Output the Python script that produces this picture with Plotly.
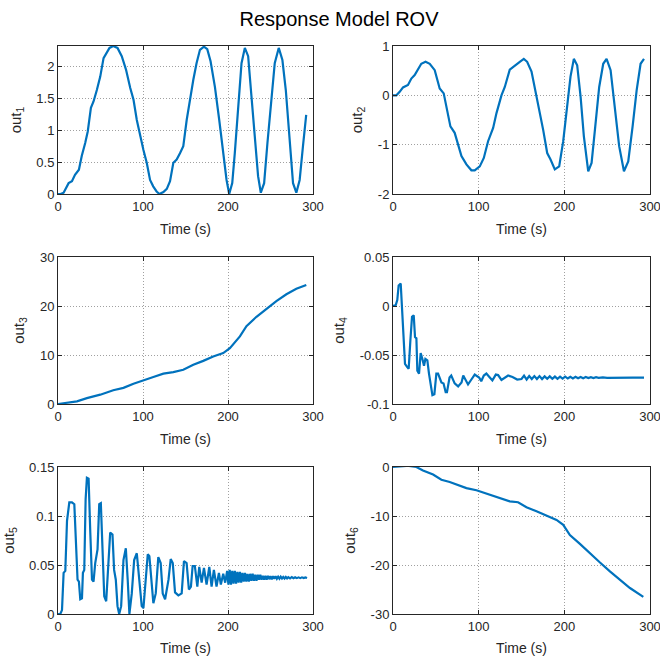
import plotly.graph_objects as go

# ---------------- data ----------------
t1 = [0, 3, 6.6, 10.5, 12.5, 16.4, 20, 24.6, 28, 32, 35, 38.7, 41.8, 45.7, 49.7, 53.6, 56.7, 60.6, 65,
      70, 75, 80, 85, 88.8, 92.7, 96.6, 100.5, 104.4, 108.3, 112, 116, 119.3, 124, 128, 131.8, 135.7,
      139.6, 143.5, 147.4, 151.4, 155.3, 159.2, 163, 167, 171.7, 175.6, 179.5, 184.6, 189.7, 194.4,
      198.3, 201.4, 205, 208, 212, 215.9, 219.8, 223.7, 227.6, 231.5, 235.4, 238.6, 242.5, 246.4, 251,
      255, 259.7, 264, 268, 272.6, 276.5, 280.4, 284.3, 288.2, 292]
y1 = [0, 0, 0.02, 0.12, 0.17, 0.2, 0.3, 0.38, 0.6, 0.8, 0.98, 1.35, 1.45, 1.63, 1.84, 2.13, 2.21, 2.29, 2.32,
      2.29, 2.16, 1.95, 1.66, 1.48, 1.16, 0.9, 0.69, 0.49, 0.22, 0.12, 0.04, 0, 0.03, 0.08, 0.2, 0.49,
      0.54, 0.64, 0.75, 1.16, 1.5, 1.79, 2.05, 2.26, 2.31, 2.27, 2.08, 1.68, 1.16, 0.64,
      0.22, 0, 0.17, 0.64, 1.43, 2.05, 2.29, 2.16, 1.53, 0.85, 0.28, 0.02, 0.17, 0.8, 1.53,
      2.05, 2.29, 2.1, 1.63, 0.8, 0.17, 0.02, 0.22, 0.75, 1.24]

t2 = [0, 3.9, 7.8, 11.7, 17.5, 21.4, 25.3, 29.2, 33, 38, 42.9, 48.7, 54.5, 59.2, 62.3, 67, 72, 76, 79.9,
      85.7, 91.5, 95.4, 101.3, 106, 111, 116.9, 120.8, 126.6, 130.5, 136.3, 142.2, 148, 152.7, 156.6,
      161.7, 165.6, 170.6, 175.3, 180, 183.9, 188.9, 194, 198.7, 203.4, 207.2, 211.1, 215, 219, 222.8,
      227.9, 231.8, 235.7, 240.7, 245.4, 249.3, 254, 259, 264, 269.6, 274.6, 279.7, 284.4, 289, 293]
y2 = [0, 0, 0.07, 0.16, 0.21, 0.34, 0.41, 0.54, 0.64, 0.68, 0.64, 0.51, 0.14, 0.04, -0.23, -0.63, -0.76,
      -0.99, -1.23, -1.4, -1.52, -1.52, -1.44, -1.27, -0.93, -0.66, -0.36, 0.0, 0.17, 0.52, 0.61, 0.68,
      0.74, 0.68, 0.48, 0.14, -0.23, -0.7, -1.17, -1.3, -1.5, -1.44, -0.93, -0.16, 0.38, 0.74, 0.61,
      -0.03, -0.83, -1.54, -1.37, -0.7, 0.17, 0.64, 0.74, 0.51, -0.23, -1.03, -1.54, -1.34, -0.63, 0.1,
      0.64, 0.74]

t3 = [0, 10.6, 22.3, 34, 49.7, 65, 77, 88.8, 100.5, 112.2, 124, 135.7, 147.4, 159.2, 170.9, 182.6, 194.4,
      202.2, 214, 221.7, 233.5, 245.2, 256.9, 268.7, 280.4, 292.1]
y3 = [0, 0.2, 0.55, 1.2, 1.9, 2.8, 3.3, 4.15, 4.75, 5.5, 6.2, 6.5, 7.0, 8.0, 8.8, 9.7, 10.4,
      11.4, 13.8, 15.9, 17.8, 19.4, 21.0, 22.4, 23.5, 24.3]

t4 = [0, 3.1, 5, 6.6, 9, 10.5, 12.5, 14, 16.4, 18.3, 20.3, 22.2, 24.2, 25.7, 27.3, 28.4, 30.4, 32.3, 34.3,
      36.2, 37.8, 40.1, 42, 44, 46, 48.3, 50.6, 52.6, 56.5, 59, 61.5, 63, 66, 68, 72, 76, 80, 82, 85.7,
      87.6, 91.5, 95.4, 100.5, 103, 106, 109, 113, 116, 120, 122.7, 126.6, 130.5, 134.4, 139.5, 145,
      150, 153, 156, 159, 162, 165, 168, 171, 174, 177, 180, 183, 186, 189, 192, 195, 198, 201, 204,
      207, 210, 213, 216, 219, 222, 225, 228, 231, 234, 237, 240, 245, 250, 260, 270, 280, 293]
y4 = [0, 0.0007, 0.006, 0.021, 0.023, -0.001, -0.0385, -0.059, -0.062, -0.064, -0.035, -0.011, -0.0095,
      -0.0317, -0.033, -0.066, -0.069, -0.048, -0.054, -0.061, -0.054, -0.0555, -0.069, -0.083, -0.091,
      -0.09, -0.069, -0.069, -0.078, -0.079, -0.088, -0.088, -0.073, -0.071, -0.079, -0.082, -0.078,
      -0.071, -0.077, -0.080, -0.075, -0.070, -0.073, -0.0767, -0.071, -0.069, -0.073, -0.076, -0.070,
      -0.0705, -0.0755, -0.0735, -0.071, -0.0725, -0.075, -0.0745, -0.071, -0.075, -0.0715, -0.0745,
      -0.0715, -0.0745, -0.0715, -0.0745, -0.0718, -0.0743, -0.0718, -0.0742, -0.072, -0.0742, -0.072,
      -0.074, -0.0721, -0.074, -0.0722, -0.0739, -0.0723, -0.0738, -0.0724, -0.0737, -0.0725, -0.0736,
      -0.0726, -0.0735, -0.0727, -0.0734, -0.0728, -0.0733, -0.073, -0.0731, -0.073, -0.073]

t5 = [0, 2.7, 4.7, 6.6, 8.6, 10.6, 13.3, 16.4, 19.2, 21.5, 23, 24.6, 26.2, 28.2, 29.3, 30.9, 32.5, 34, 36,
      38, 40, 41.8, 43.8, 46.5, 48.5, 50.4, 52.4, 54.4, 56.7, 58.3, 61.4, 64.1, 66, 68, 70, 72, 74.3, 77,
      79.8, 82, 84, 86.8, 89.6, 92.7, 95.8, 98.5, 100.5, 103.2, 105.6, 107.5, 110.3, 112.2, 115, 118,
      120.8, 123.2, 126, 130, 132.6, 135, 137.7, 141.6, 145.5, 148.2, 151.3, 154, 156.4, 158.4, 161,
      163.9, 166.2, 169, 171.7, 174.8, 178, 180.7, 183.4, 186.5, 189.3, 191.6, 194.4, 196.7, 199,
      200.5, 202, 203.5, 205, 206.5, 208, 209.5, 211, 212.5, 214, 215.5, 217, 218.5, 220, 221.5, 223,
      224.5, 226, 227.5, 229, 230.5, 232, 233.5, 235, 236.5, 238, 239.5, 241, 242.5, 244, 245.5, 247,
      248.5, 250, 251.5, 253, 254.5, 256, 257.5, 259, 260.5, 262, 263.5, 265, 266.5, 268, 269.5, 271,
      273, 275, 277, 279, 281, 283, 285, 287, 289, 291, 293]
y5 = [0, 0, 0.004, 0.042, 0.044, 0.095, 0.114, 0.114, 0.112, 0.066, 0.035, 0.033, 0.015, 0.016, 0.042,
      0.045, 0.117, 0.139, 0.138, 0.083, 0.035, 0.033, 0.052, 0.066, 0.112, 0.113, 0.066, 0.018, 0.013,
      0.042, 0.083, 0.081, 0.045, 0.035, 0.008, 0, 0.008, 0.055, 0.067, 0.035, 0, 0.021, 0.055, 0.062,
      0.033, 0.008, 0.006, 0.037, 0.061, 0.059, 0.025, 0.011, 0.021, 0.058, 0.052, 0.021, 0.015, 0.035,
      0.056, 0.052, 0.022, 0.019, 0.021, 0.054, 0.052, 0.025, 0.028, 0.049, 0.049, 0.028, 0.048, 0.032,
      0.047, 0.030, 0.048, 0.028, 0.045, 0.028, 0.042, 0.030, 0.041, 0.032, 0.044,
      0.030, 0.045, 0.030, 0.044, 0.031, 0.044, 0.031, 0.043, 0.032, 0.043, 0.032, 0.042, 0.033, 0.042,
      0.033, 0.041, 0.033, 0.041, 0.034, 0.041, 0.034, 0.040, 0.034, 0.040, 0.035, 0.040, 0.035, 0.039,
      0.035, 0.039, 0.035, 0.039, 0.0355, 0.0385, 0.0355, 0.0385, 0.036, 0.0385, 0.036, 0.038, 0.036,
      0.038, 0.0362, 0.0378, 0.0362, 0.0378, 0.0364, 0.0376, 0.0364, 0.0376, 0.0365, 0.0375, 0.0366,
      0.0374, 0.0366, 0.0374, 0.0367, 0.0373, 0.0367, 0.0373, 0.0368, 0.0372, 0.0369]

t6 = [0, 7.8, 17.5, 27.3, 35, 46.8, 56.5, 66.2, 75.9, 85.7, 97.4, 107, 116.9, 126.6, 136.3, 146, 155.8,
      167.5, 179.2, 190.9, 198.7, 206.5, 218.2, 229.9, 241.6, 253.2, 265, 276.6, 292.2]
y6 = [0, 0.1, 0.25, 0, -0.7, -1.55, -2.6, -3.05, -3.6, -4.3, -4.75, -5.3, -6.0, -6.5, -7.0, -7.2, -8.2,
      -9.05, -10.0, -10.8, -11.8, -13.9, -15.7, -17.7, -19.5, -21.3, -23.0, -24.7, -26.5]

series_t = [t1, t2, t3, t4, t5, t6]
series_y = [y1, y2, y3, y4, y5, y6]
y_labels = ["out<sub>1</sub>", "out<sub>2</sub>", "out<sub>3</sub>",
            "out<sub>4</sub>", "out<sub>5</sub>", "out<sub>6</sub>"]
y_ranges = [[0, 2.32], [-2, 1], [0, 30], [-0.1, 0.05], [0, 0.15], [-30, 0]]
y_tickvals = [[0, 0.5, 1, 1.5, 2], [-2, -1, 0, 1], [0, 10, 20, 30],
              [-0.1, -0.05, 0, 0.05], [0, 0.05, 0.1, 0.15], [-30, -20, -10, 0]]
y_ticktext = [["0", "0.5", "1", "1.5", "2"], ["-2", "-1", "0", "1"], ["0", "10", "20", "30"],
              ["-0.1", "-0.05", "0", "0.05"], ["0", "0.05", "0.1", "0.15"], ["-30", "-20", "-10", "0"]]
x_tickvals = [0, 100, 200, 300]
x_ticktext = ["0", "100", "200", "300"]
x_label = "Time (s)"
title_text = "Response Model ROV"

# ---------------- layout ----------------
W, H = 660, 656
col_px = [(58, 313), (393, 650)]
row_px = [(46, 194), (257, 404), (467, 614)]
FONT = "Liberation Sans, Arial, Helvetica, sans-serif"
LINE = "#0072BD"
AX = "#262626"

fig = go.Figure()
layout = dict(
    width=W, height=H, margin=dict(l=0, r=0, t=0, b=0, autoexpand=False),
    paper_bgcolor="white", plot_bgcolor="white", showlegend=False,
    font=dict(family=FONT, size=13, color=AX),
    title=dict(text=title_text, x=339 / W, xanchor="center", y=1 - 19 / H, yanchor="middle",
               yref="container", font=dict(size=20, color="#000000")),
)

for i in range(6):
    r, c = divmod(i, 2)
    n = i + 1
    xa = "x" if n == 1 else f"x{n}"
    ya = "y" if n == 1 else f"y{n}"
    fig.add_trace(go.Scatter(x=series_t[i], y=series_y[i], mode="lines",
                             line=dict(color=LINE, width=2.2), xaxis=xa, yaxis=ya))
    x0, x1 = col_px[c]
    y0, y1 = row_px[r]
    common = dict(showline=True, linecolor=AX, linewidth=1, mirror="ticks",
                  ticks="inside", ticklen=4, tickcolor=AX, tickwidth=1,
                  showgrid=True, gridcolor="#a0a0a0", griddash="1px,2px", gridwidth=1,
                  zeroline=False, automargin=False, ticklabeloverflow="allow",
                  tickfont=dict(size=13, color=AX))
    layout[f"xaxis{n}"] = dict(
        domain=[x0 / W, x1 / W], anchor=ya, range=[0, 300],
        tickvals=x_tickvals, ticktext=x_ticktext,
        title=dict(text=x_label, font=dict(size=14, color=AX), standoff=11), **common)
    layout[f"yaxis{n}"] = dict(
        domain=[1 - y1 / H, 1 - y0 / H], anchor=xa, range=y_ranges[i],
        tickvals=y_tickvals[i], ticktext=y_ticktext[i],
        title=dict(text=y_labels[i], font=dict(size=15, color=AX), standoff=11), **common)

fig.update_layout(**layout)
fig.write_html("out.html", config={"displayModeBar": False},
               post_script="document.body.style.margin='0';document.body.style.overflow='hidden';")
